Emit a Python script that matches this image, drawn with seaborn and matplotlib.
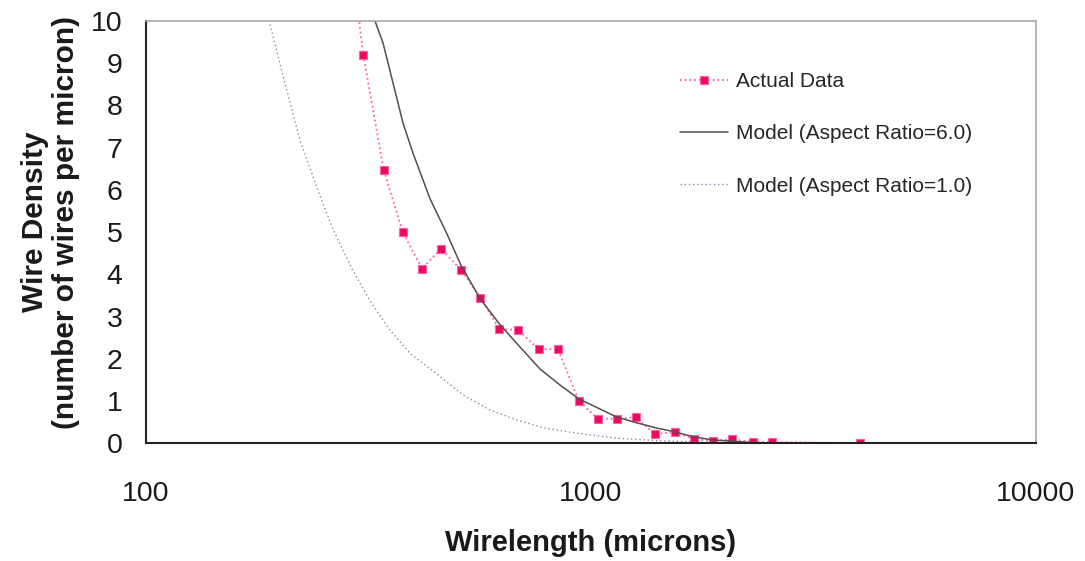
import matplotlib
matplotlib.use("Agg")
import matplotlib.pyplot as plt
import seaborn as sns
import pandas as pd

# measured wire density (first point lies above the plot top and is clipped)
actual_len = [295, 307.8, 342.1, 377.5, 417.1, 460.2, 511.1, 563.9, 622.3, 686.7,
              762.9, 843.0, 938.5, 1035.4, 1142.6, 1260.3, 1390.5, 1544.9, 1704,
              1883, 2077, 2309, 2547, 4022]
actual_den = [10.8, 9.19, 6.48, 5.00, 4.13, 4.61, 4.10, 3.45, 2.71, 2.68,
              2.23, 2.23, 1.01, 0.58, 0.58, 0.62, 0.22, 0.26, 0.095,
              0.06, 0.095, 0.03, 0.03, 0.0]

# model, aspect ratio 6.0
ar6_len = [323.7, 327.1, 340.9, 359.0, 378.1, 398.1, 434.8, 474.0, 511.1, 563.9,
           622.3, 692.6, 768.0, 851.8, 939.7, 1144, 1262, 1407, 1545, 1704,
           1880, 2075, 2312, 2547]
ar6_den = [10.14, 10.0, 9.48, 8.53, 7.58, 6.87, 5.79, 4.97, 4.20, 3.42,
           2.83, 2.28, 1.76, 1.38, 1.05, 0.62, 0.49, 0.36, 0.27, 0.15,
           0.08, 0.05, 0.015, 0.004]

# model, aspect ratio 1.0
ar1_len = [186, 188.9, 203.5, 221.8, 247.4, 263.6, 290.4, 318.8, 353.4, 392.0,
           450.8, 516.4, 593.0, 680.8, 781.3, 889.2, 959.4, 1144, 1429, 1758,
           2085, 2949]
ar1_den = [10.5, 10.02, 8.68, 7.18, 5.79, 5.05, 4.13, 3.37, 2.68, 2.13,
           1.64, 1.14, 0.79, 0.55, 0.37, 0.27, 0.22, 0.12, 0.06, 0.03,
           0.015, 0.0]

sns.set_style("white")
plt.rcParams["font.family"] = ["Liberation Sans", "DejaVu Sans"]

fig = plt.figure(figsize=(10.85, 5.61), dpi=100)
ax = fig.add_axes([146 / 1085, 1 - 443.3 / 561, 890 / 1085, 422.3 / 561])

sns.lineplot(x=actual_len, y=actual_den, ax=ax, sort=False, color="#FF5FB0",
             linestyle=(0, (1, 1.6)), linewidth=1.3, marker="s", markersize=6,
             markerfacecolor="#EC0A5E", markeredgecolor="#FF5FA8",
             markeredgewidth=0.8, label="Actual Data")
sns.lineplot(x=ar6_len, y=ar6_den, ax=ax, sort=False, color="#505050",
             linewidth=1.1, label="Model (Aspect Ratio=6.0)")
sns.lineplot(x=ar1_len, y=ar1_den, ax=ax, sort=False, color="#8a8aa8",
             linestyle=(0, (1, 2)), linewidth=1.0,
             label="Model (Aspect Ratio=1.0)")

ax.set_xscale("log")
ax.set_xlim(100, 10000)
ax.set_ylim(0, 10)
ax.set_xticks([100, 1000, 10000])
ax.set_xticklabels(["100", "1000", "10000"])
ax.xaxis.set_minor_locator(matplotlib.ticker.NullLocator())
ax.set_yticks(range(0, 11))

ax.tick_params(axis="both", direction="out", length=7, width=1.2,
               color="#222222", labelsize=20.5, labelcolor="#1a1a1a")
ax.tick_params(axis="y", pad=10)
ax.tick_params(axis="x", pad=20)

for s in ["left", "bottom"]:
    ax.spines[s].set_color("#222222")
    ax.spines[s].set_linewidth(1.5)
for s in ["top", "right"]:
    ax.spines[s].set_color("#A8A8A8")
    ax.spines[s].set_linewidth(1.2)

ax.set_xlabel("Wirelength (microns)", fontsize=21, fontweight="bold",
              color="#1a1a1a", labelpad=16)
ax.set_ylabel("Wire Density\n(number of wires per micron)", fontsize=21.5,
              fontweight="bold", color="#1a1a1a", linespacing=1.15)
ax.yaxis.set_label_coords(-0.074, 0.524)

ax.legend(loc="upper left", bbox_to_anchor=(680 / 1085, 1 - 72 / 561),
          bbox_transform=fig.transFigure, frameon=False, fontsize=15,
          handlelength=2.3, handletextpad=0.4, labelspacing=1.6,
          borderpad=0, borderaxespad=0)

fig.savefig("out.png", dpi=100)
